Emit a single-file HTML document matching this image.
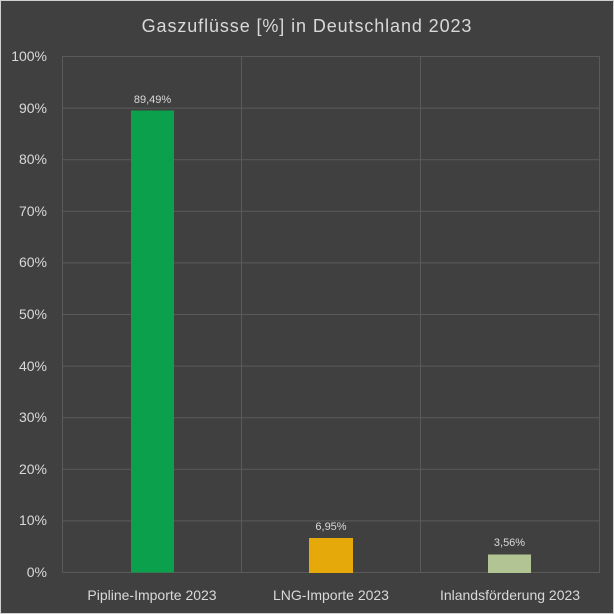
<!DOCTYPE html>
<html><head><meta charset="utf-8"><style>
body{margin:0;background:#fff}
svg{display:block}
text{font-family:"Liberation Sans","DejaVu Sans",sans-serif;fill:#d9d9d9}
</style></head><body>
<svg width="614" height="614" viewBox="0 0 614 614">
<rect x="0.5" y="0.5" width="613" height="613" fill="#404040" stroke="#d0d0d0"/>
<text x="307" y="32" font-size="18" text-anchor="middle" letter-spacing="0.9">Gaszuflüsse [%] in Deutschland 2023</text>
<g stroke="#5a5a5a" stroke-width="1">
<line x1="62" y1="56.5" x2="600" y2="56.5"/>
<line x1="62" y1="108.1" x2="600" y2="108.1"/>
<line x1="62" y1="159.7" x2="600" y2="159.7"/>
<line x1="62" y1="211.3" x2="600" y2="211.3"/>
<line x1="62" y1="262.9" x2="600" y2="262.9"/>
<line x1="62" y1="314.5" x2="600" y2="314.5"/>
<line x1="62" y1="366.1" x2="600" y2="366.1"/>
<line x1="62" y1="417.7" x2="600" y2="417.7"/>
<line x1="62" y1="469.3" x2="600" y2="469.3"/>
<line x1="62" y1="520.9" x2="600" y2="520.9"/>
<line x1="62" y1="572.5" x2="600" y2="572.5"/>
<line x1="62.5" y1="56" x2="62.5" y2="573"/>
<line x1="241.5" y1="56" x2="241.5" y2="573"/>
<line x1="420.5" y1="56" x2="420.5" y2="573"/>
<line x1="599.5" y1="56" x2="599.5" y2="573"/>
</g>
<g font-size="14" text-anchor="end">
<text x="47" y="61">100%</text><text x="47" y="113">90%</text><text x="47" y="164">80%</text>
<text x="47" y="216">70%</text><text x="47" y="267">60%</text><text x="47" y="319">50%</text>
<text x="47" y="371">40%</text><text x="47" y="422">30%</text><text x="47" y="474">20%</text>
<text x="47" y="525">10%</text><text x="47" y="577">0%</text>
</g>
<rect x="131" y="110.5" width="43" height="462" fill="#0ba04c"/>
<rect x="309" y="538" width="44" height="35" fill="#e5aa0a"/>
<rect x="488" y="554.5" width="43" height="18.5" fill="#b3c494"/>
<g font-size="11" text-anchor="middle">
<text x="152.5" y="103">89,49%</text>
<text x="331" y="530">6,95%</text>
<text x="509.5" y="546">3,56%</text>
</g>
<g font-size="14" text-anchor="middle">
<text x="152" y="600">Pipline-Importe 2023</text>
<text x="331" y="600">LNG-Importe 2023</text>
<text x="510" y="600">Inlandsförderung 2023</text>
</g>
</svg>
</body></html>
